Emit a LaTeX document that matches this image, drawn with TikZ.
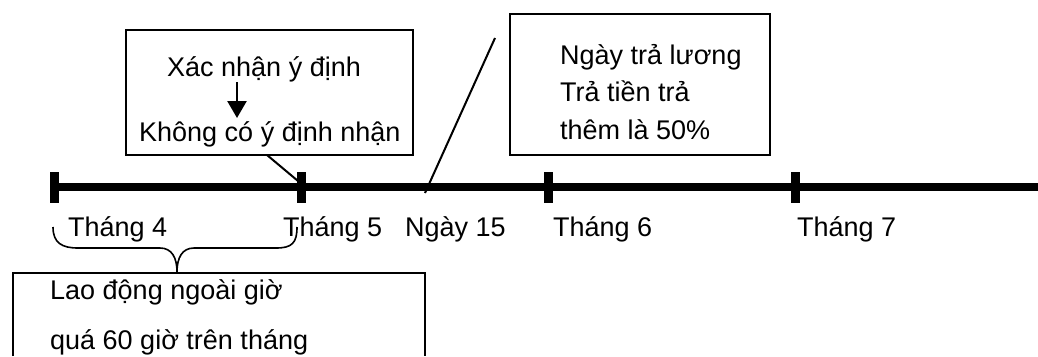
\documentclass[tikz,border=0pt]{standalone}
\usepackage{fontspec}
\setmainfont{Liberation Sans}
\usetikzlibrary{arrows.meta}
\begin{document}
\begin{tikzpicture}[x=1pt,y=-1pt,
  lbl/.style={anchor=base west,inner sep=0pt,font=\fontsize{27}{30}\selectfont},
  boxframe/.style={draw,line width=2.2pt,inner sep=0pt},
  tickmark/.style={line width=9pt},
  thin/.style={line width=2pt}]
\useasboundingbox (0,0) rectangle (1038,356);
\fill[white] (0,0) rectangle (1038,356);
% timeline
\coordinate (tl0) at (50,187);
\coordinate (tlend) at (1038,187);
\draw[line width=8pt] (tl0) -- (tlend);
\foreach \n/\x in {1/54,2/301,3/548,4/795}{
  \coordinate (t\n top) at (\x,172);
  \coordinate (t\n bot) at (\x,203);
  \draw[tickmark] (t\n top) -- (t\n bot);
}
% labels
\node[lbl] (m4) at (68,236) {Tháng 4};
\node[lbl] (m5) at (283,236) {Tháng 5};
\node[lbl] (d15) at (405,236) {Ngày 15};
\node[lbl] (m6) at (553,236) {Tháng 6};
\node[lbl] (m7) at (797,236) {Tháng 7};
% box 1
\node[boxframe,minimum width=287pt,minimum height=125pt] (b1) at (269.5,92.5) {};
\node[lbl] (x1) at (167,76) {Xác nhận ý định};
\node[lbl] (k1) at (139,141) {Không có ý định nhận};
\coordinate (arrS) at (237,82);
\coordinate (arrE) at (237,118);
\draw[line width=2.5pt,-{Triangle[length=17pt,width=19pt]}] (arrS) -- (arrE);
\coordinate (b1c) at (267,155);
\coordinate (t2c) at (298,181);
\draw[thin] (b1c) -- (t2c);
% box 2
\node[boxframe,minimum width=260pt,minimum height=141pt] (b2) at (640,84.5) {};
\node[lbl] (p1) at (560,64) {Ngày trả lương};
\node[lbl] (p2) at (560,101) {Trả tiền trả};
\node[lbl] (p3) at (560,139) {thêm là 50\%};
\coordinate (s1) at (495,38);
\coordinate (s2) at (425,193);
\draw[thin] (s1) -- (s2);
% brace
\coordinate (brL) at (53,227);
\coordinate (brR) at (297,227);
\coordinate (brT) at (177,272);
\draw[line width=1.6pt] (brL) .. controls (53,243) and (62,248) .. (78,248) -- (160,248)
  .. controls (172,248) and (177,258) .. (brT)
  .. controls (177,258) and (182,248) .. (194,248) -- (276,248)
  .. controls (292,248) and (297,243) .. (brR);
% box 3
\coordinate (b3bl) at (13,356);
\coordinate (b3tl) at (13,273);
\coordinate (b3tr) at (425,273);
\coordinate (b3br) at (425,356);
\draw[line width=2.2pt] (b3bl) -- (b3tl) -- (b3tr) -- (b3br);
\node[lbl] (o1) at (50,299) {Lao động ngoài giờ};
\node[lbl] (o2) at (50,349) {quá 60 giờ trên tháng};
\end{tikzpicture}
\end{document}
